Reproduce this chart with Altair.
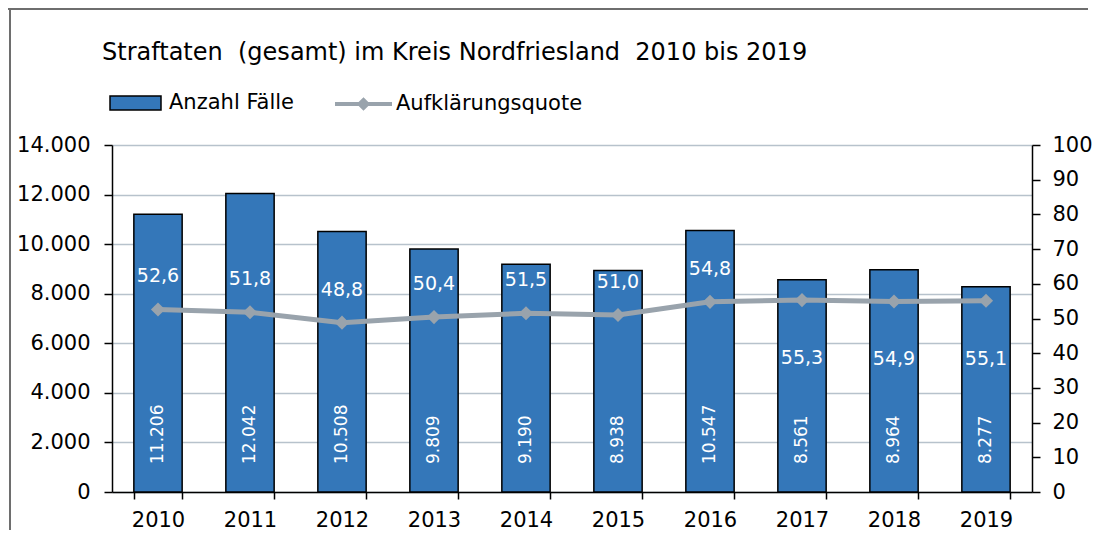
import altair as alt
import pandas as pd

years = ["2010", "2011", "2012", "2013", "2014", "2015", "2016", "2017", "2018", "2019"]
faelle = [11206, 12042, 10508, 9809, 9190, 8938, 10547, 8561, 8964, 8277]
quote = [52.6, 51.8, 48.8, 50.4, 51.5, 51.0, 54.8, 55.3, 54.9, 55.1]
label_below = [False, False, False, False, False, False, False, True, True, True]

df = pd.DataFrame({"Jahr": years, "Faelle": faelle, "Quote": quote, "unten": label_below})

FONT = "DejaVu Sans"
BLUE = "#3477b9"
GRAY = "#99a3ac"
GRID = "#b7c2cc"

x = alt.X("Jahr:N", sort=years, title=None,
          scale=alt.Scale(paddingInner=0.475, paddingOuter=0.2375),
          axis=alt.Axis(labelAngle=0, tickBand="extent", labelFontSize=21, labelFont=FONT,
                        labelColor="black", domainColor="black", domainWidth=1.5,
                        tickColor="black", tickWidth=1.5, tickSize=7, labelPadding=10, grid=False))

yl_axis = alt.Axis(values=list(range(0, 14001, 2000)), format=",.0f", orient="left",
                   labelFontSize=21, labelFont=FONT, labelColor="black",
                   domainColor="black", domainWidth=1.5, tickColor="black", tickWidth=1.5,
                   tickSize=8, labelPadding=14, grid=True, gridColor=GRID, gridWidth=1.5)
yl_scale = alt.Scale(domain=[0, 14000], nice=False)

bars = alt.Chart(df).mark_bar(stroke="black", strokeWidth=1.5).encode(
    x=x, y=alt.Y("Faelle:Q", title=None, scale=yl_scale, axis=yl_axis),
    fill=alt.Fill("serie:N", scale=alt.Scale(domain=["Anzahl Fälle"], range=[BLUE]),
                  legend=alt.Legend(orient="none", legendX=-3, legendY=-68.5, title=None,
                                    symbolType="M-1,-0.275H1V0.275H-1Z", symbolSize=2601,
                                    symbolStrokeColor="black", symbolStrokeWidth=1.5,
                                    symbolOpacity=1, padding=0, labelOffset=7, labelLimit=400,
                                    labelFontSize=21, labelFont=FONT, labelColor="black")),
).transform_calculate(serie="'Anzahl Fälle'")

bar_text = alt.Chart(df).mark_text(angle=270, align="left", baseline="middle", dx=28,
                                   color="white", fontSize=17, font=FONT).encode(
    x=alt.X("Jahr:N", sort=years),
    y=alt.Y("null0:Q", axis=yl_axis, scale=yl_scale, title=None),
    text=alt.Text("Faelle:Q", format=",.0f"),
).transform_calculate(null0="0")

frame_top = alt.Chart(pd.DataFrame({"a": [0]})).mark_rule(color="#6e6e6e", strokeWidth=2).encode(
    x=alt.value(-104), x2=alt.value(976), y=alt.value(-136), y2=alt.value(-136))
frame_left = alt.Chart(pd.DataFrame({"a": [0]})).mark_rule(color="#6e6e6e", strokeWidth=2).encode(
    x=alt.value(-102), x2=alt.value(-102), y=alt.value(-137), y2=alt.value(440))

left = alt.layer(bars, bar_text, frame_top, frame_left)

yr_axis = alt.Axis(values=list(range(0, 101, 10)), orient="right",
                   labelFontSize=21, labelFont=FONT, labelColor="black",
                   domainColor="black", domainWidth=1.5, tickColor="black", tickWidth=1.5,
                   tickSize=8, labelPadding=12, grid=False)
yr_scale = alt.Scale(domain=[0, 100], nice=False)


def yr():
    return alt.Y("Quote:Q", title=None, scale=yr_scale, axis=yr_axis)


line = alt.Chart(df).mark_line(strokeWidth=5).encode(
    x=alt.X("Jahr:N", sort=years), y=yr(),
    stroke=alt.Stroke("serie:N", scale=alt.Scale(domain=["Aufklärungsquote"], range=[GRAY]),
                      legend=alt.Legend(orient="none", legendX=221, legendY=-71.5, title=None,
                                        symbolType="M-1,0H1M-0.14,0L0,-0.14L0.14,0L0,0.14Z",
                                        symbolSize=3249, symbolStrokeWidth=4,
                                        symbolFillColor=GRAY, padding=0, labelOffset=2,
                                        labelLimit=400,
                                        labelFontSize=21, labelFont=FONT, labelColor="black")),
).transform_calculate(serie="'Aufklärungsquote'")

points = alt.Chart(df).mark_point(shape="diamond", filled=True, size=200, color=GRAY, opacity=1).encode(
    x=alt.X("Jahr:N", sort=years), y=yr())

text_above = alt.Chart(df).transform_filter("!datum.unten").mark_text(
    baseline="middle", dy=-33, color="white", fontSize=19, font=FONT).encode(
    x=alt.X("Jahr:N", sort=years), y=yr(),
    text=alt.Text("Quote:Q", format=".1f"))

text_below = alt.Chart(df).transform_filter("datum.unten").mark_text(
    baseline="middle", dy=58, color="white", fontSize=19, font=FONT).encode(
    x=alt.X("Jahr:N", sort=years), y=yr(),
    text=alt.Text("Quote:Q", format=".1f"))

right = alt.layer(line, points, text_above, text_below)

chart = alt.layer(left, right).resolve_scale(y="independent", fill="independent", stroke="independent").properties(
    width=920, height=347,
    padding={"left": 104, "top": 137, "right": 60, "bottom": 38},
    autosize=alt.AutoSizeParams(type="none"),
    title=alt.TitleParams("Straftaten\u00a0 (gesamt) im Kreis Nordfriesland\u00a0 2010 bis 2019",
                          anchor="start", frame="group", dx=-10, offset=-77, fontSize=24,
                          baseline="alphabetic",
                          font=FONT, fontWeight="normal", color="black"),
).configure(
    locale=alt.Locale(number=alt.NumberLocale(decimal=",", thousands=".", grouping=[3],
                                              currency=["", " €"])),
).configure_view(stroke=None).configure_axis(labelFont=FONT)

chart.save("out.html", embed_options={"renderer": "svg", "actions": False})
